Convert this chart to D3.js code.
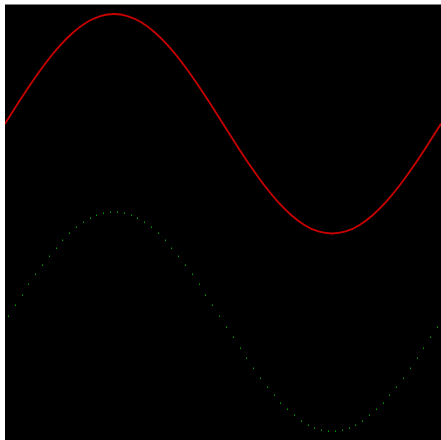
<!DOCTYPE html>
<html>
<head>
<meta charset="utf-8">
<script src="https://cdn.jsdelivr.net/npm/d3@7"></script>
<style>
html,body{margin:0;padding:0;background:#fff;}
svg{display:block;}
</style>
</head>
<body>
<script>
// Red solid curve: 33 samples over one period
const redValues = [0, 0.195, 0.383, 0.556, 0.707, 0.831, 0.924, 0.981, 1, 0.981, 0.924, 0.831, 0.707, 0.556, 0.383, 0.195,
  0, -0.195, -0.383, -0.556, -0.707, -0.831, -0.924, -0.981, -1, -0.981, -0.924, -0.831, -0.707, -0.556, -0.383, -0.195, 0];

// Green dotted series: 64 points
const greenValues = [
  -1.751, -1.653, -1.557, -1.463, -1.372, -1.286, -1.204, -1.128, -1.059, -0.997, -0.942, -0.896, -0.859, -0.830, -0.811, -0.801,
  -0.801, -0.811, -0.830, -0.859, -0.896, -0.942, -0.997, -1.059, -1.128, -1.204, -1.286, -1.372, -1.463, -1.557, -1.653, -1.751,
  -1.849, -1.947, -2.043, -2.137, -2.228, -2.314, -2.396, -2.472, -2.541, -2.603, -2.658, -2.704, -2.742, -2.770, -2.789, -2.799,
  -2.799, -2.789, -2.770, -2.742, -2.704, -2.658, -2.603, -2.541, -2.472, -2.396, -2.314, -2.228, -2.137, -2.043, -1.947, -1.849
];

const W = 441, H = 440;
const plot = {x: 5, y: 4.5, w: 436, h: 435.5};

const svg = d3.select("body").append("svg").attr("width", W).attr("height", H);

svg.append("rect").attr("x", plot.x).attr("y", plot.y).attr("width", plot.w).attr("height", plot.h).attr("fill", "#000");

const defs = svg.append("defs");
defs.append("clipPath").attr("id", "clip").append("rect")
  .attr("x", plot.x).attr("y", plot.y).attr("width", plot.w).attr("height", plot.h);

const xRed = d3.scaleLinear().domain([0, redValues.length - 1]).range([5, 441]);
const xGreen = d3.scaleBand().domain(d3.range(greenValues.length)).range([5, 441]);
const y = d3.scaleLinear().domain([-1, 1]).range([233.5, 14]);

const g = svg.append("g").attr("clip-path", "url(#clip)");

g.append("path")
  .datum(redValues)
  .attr("fill", "none")
  .attr("stroke", "#c80000")
  .attr("stroke-width", 1.8)
  .attr("d", d3.line().x((d, i) => xRed(i)).y(d => y(d)).curve(d3.curveNatural));

g.selectAll("rect.dot")
  .data(greenValues)
  .join("rect")
  .attr("class", "dot")
  .attr("x", (d, i) => Math.floor(xGreen(i) + xGreen.bandwidth() / 2))
  .attr("y", d => Math.round(y(d)) - 0.5)
  .attr("width", 1)
  .attr("height", 1.5)
  .attr("fill", "#00a000");
</script>
</body>
</html>
